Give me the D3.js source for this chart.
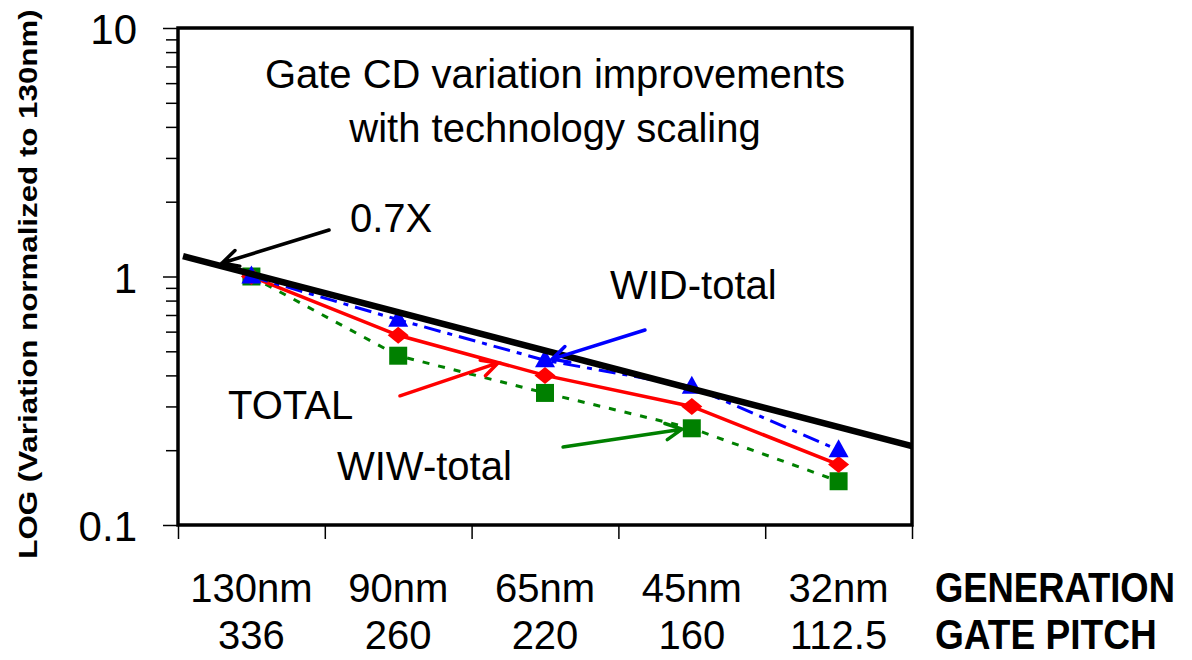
<!DOCTYPE html>
<html>
<head>
<meta charset="utf-8">
<script src="https://cdn.jsdelivr.net/npm/d3@7/dist/d3.min.js"></script>
<style>
  html, body { margin: 0; padding: 0; background: #fff; }
  svg { display: block; font-family: "Liberation Sans", Arial, Helvetica, sans-serif; }
</style>
</head>
<body>
<svg id="chart" width="1192" height="660"></svg>
<script>
// Technology generations and their gate pitch
const generations = ["130nm", "90nm", "65nm", "45nm", "32nm"];
const gatePitch = ["336", "260", "220", "160", "112.5"];

// Variation normalized to the 130nm node
const totalValues = [1.0, 0.58, 0.40, 0.30, 0.175];
const widValues   = [1.0, 0.67, 0.46, 0.36, 0.20];
const wiwValues   = [1.0, 0.48, 0.34, 0.245, 0.15];

// 0.7X per generation reference line (end points, generation index / value)
const trendIndex  = [-0.466, 4.5];
const trendValues = [1.207, 0.2075];

// Log axis ticks
const yMajorTicks = [0.1, 1, 10];
const yMinorTicks = [0.2, 0.3, 0.4, 0.5, 0.6, 0.7, 0.8, 0.9, 2, 3, 4, 5, 6, 7, 8, 9];

const svg = d3.select("#chart");
const plot = { left: 178, top: 28, right: 912, bottom: 525 };

const x = d3.scaleLinear()
  .domain([-0.5, generations.length - 0.5])
  .range([plot.left, plot.right]);

const y = d3.scaleLog()
  .domain([0.1, 10])
  .range([plot.bottom, plot.top]);

// ---- Axes ----
const minorAxis = svg.append("g")
  .attr("transform", `translate(${plot.left},0)`)
  .call(d3.axisLeft(y).tickValues(yMinorTicks).tickSize(12).tickFormat(""));
const majorAxis = svg.append("g")
  .attr("transform", `translate(${plot.left},0)`)
  .call(d3.axisLeft(y).tickValues(yMajorTicks).tickSize(15).tickPadding(26)
        .tickFormat(d => d3.format("~g")(d)));
[minorAxis, majorAxis].forEach(g => {
  g.select(".domain").remove();
  g.selectAll(".tick line").attr("stroke", "#000").attr("stroke-width", 1.5);
});
majorAxis.selectAll(".tick text")
  .attr("font-size", 42)
  .attr("fill", "#000")
  .attr("dy", "0.38em")
  .attr("font-family", "'Liberation Sans', Arial, sans-serif");

const bandEdges = d3.range(-0.5, generations.length, 1);
const xAxis = svg.append("g")
  .attr("transform", `translate(0,${plot.bottom})`)
  .call(d3.axisBottom(x).tickValues(bandEdges).tickSize(14).tickFormat(""));
xAxis.select(".domain").remove();
xAxis.selectAll(".tick line").attr("stroke", "#000").attr("stroke-width", 1.5);

// Category labels: generation and gate pitch rows
const catLabels = svg.append("g").attr("font-size", 40).attr("fill", "#000").attr("text-anchor", "middle");
catLabels.selectAll("text.gen").data(generations).join("text")
  .attr("class", "gen")
  .attr("x", (d, i) => x(i))
  .attr("y", 602)
  .text(d => d);
catLabels.selectAll("text.pitch").data(gatePitch).join("text")
  .attr("class", "pitch")
  .attr("x", (d, i) => x(i))
  .attr("y", 649)
  .text(d => d);

// Row headings, bold and slightly tall
svg.append("text")
  .attr("transform", "translate(935,602) scale(1,1.17)")
  .attr("font-size", 36.4).attr("font-weight", "bold")
  .text("GENERATION");
svg.append("text")
  .attr("transform", "translate(935,649) scale(1,1.17)")
  .attr("font-size", 37.1).attr("font-weight", "bold")
  .text("GATE PITCH");

// Y axis title
svg.append("text")
  .attr("transform", "translate(37,284) rotate(-90) scale(1,0.83)")
  .attr("text-anchor", "middle")
  .attr("font-size", 31.3).attr("font-weight", "bold")
  .text("LOG (Variation normalized to 130nm)");

// ---- Series ----
const line = d3.line().x((d, i) => x(i)).y(d => y(d));

const series = [
  { name: "WIW-total", values: wiwValues,   color: "#008000", dash: "7,9",        width: 3,   shape: "square" },
  { name: "TOTAL",     values: totalValues, color: "#ff0000", dash: null,         width: 3.5, shape: "diamond" },
  { name: "WID-total", values: widValues,   color: "#0000ff", dash: "17,7,5,7",   width: 3,   shape: "triangle" }
];

series.forEach(s => {
  svg.append("path")
    .datum(s.values)
    .attr("d", line)
    .attr("fill", "none")
    .attr("stroke", s.color)
    .attr("stroke-width", s.width)
    .attr("stroke-dasharray", s.dash);
});

function markerPath(shape) {
  if (shape === "square") return "M-9,-9H9V9H-9Z";
  if (shape === "diamond") return "M0,-8.5L10.5,0L0,8.5L-10.5,0Z";
  return "M0,-11L10,7L-10,7Z";
}
series.forEach(s => {
  svg.append("g").selectAll("path").data(s.values).join("path")
    .attr("transform", (d, i) => `translate(${x(i)},${y(d)})`)
    .attr("d", markerPath(s.shape))
    .attr("fill", s.color);
});

// 0.7X reference line
svg.append("path")
  .datum(trendIndex.map((g, i) => [g, trendValues[i]]))
  .attr("d", d3.line().x(d => x(d[0])).y(d => y(d[1])))
  .attr("stroke", "#000")
  .attr("stroke-width", 6.5)
  .attr("fill", "none");

// Plot frame
svg.append("rect")
  .attr("x", plot.left).attr("y", plot.top)
  .attr("width", plot.right - plot.left).attr("height", plot.bottom - plot.top)
  .attr("fill", "none").attr("stroke", "#000").attr("stroke-width", 3.5);

// ---- Annotations ----
const annotations = [
  { text: "0.7X",      tx: 350, ty: 232, from: [0.529, 1.538], to: [-0.200, 1.133], color: "#000" },
  { text: "WID-total", tx: 610, ty: 299, from: [2.681, 0.609], to: [2.048, 0.465], color: "#0000ff" },
  { text: "TOTAL",     tx: 228, ty: 419, from: [1.012, 0.331], to: [1.680, 0.449], color: "#ff0000" },
  { text: "WIW-total", tx: 337, ty: 480, from: [2.123, 0.206], to: [2.933, 0.243], color: "#008000" }
];

annotations.forEach(a => {
  svg.append("text")
    .attr("x", a.tx).attr("y", a.ty)
    .attr("font-size", 40).attr("fill", "#000")
    .text(a.text);

  const x0 = x(a.from[0]), y0 = y(a.from[1]);
  const x1 = x(a.to[0]),   y1 = y(a.to[1]);
  const ang = Math.atan2(y0 - y1, x0 - x1);
  const headLen = 18, spread = 27 * Math.PI / 180;
  const h1 = [x1 + headLen * Math.cos(ang + spread), y1 + headLen * Math.sin(ang + spread)];
  const h2 = [x1 + headLen * Math.cos(ang - spread), y1 + headLen * Math.sin(ang - spread)];
  svg.append("path")
    .attr("d", `M${x0},${y0}L${x1},${y1}M${h1[0]},${h1[1]}L${x1},${y1}L${h2[0]},${h2[1]}`)
    .attr("fill", "none")
    .attr("stroke", a.color)
    .attr("stroke-width", 3.5)
    .attr("stroke-linecap", "round")
    .attr("stroke-linejoin", "miter");
});

// Chart title inside plot area
const title = svg.append("text")
  .attr("text-anchor", "middle").attr("font-size", 40).attr("fill", "#000");
title.append("tspan").attr("x", 555).attr("y", 88).text("Gate CD variation improvements");
title.append("tspan").attr("x", 555).attr("y", 142).text("with technology scaling");
</script>
</body>
</html>
